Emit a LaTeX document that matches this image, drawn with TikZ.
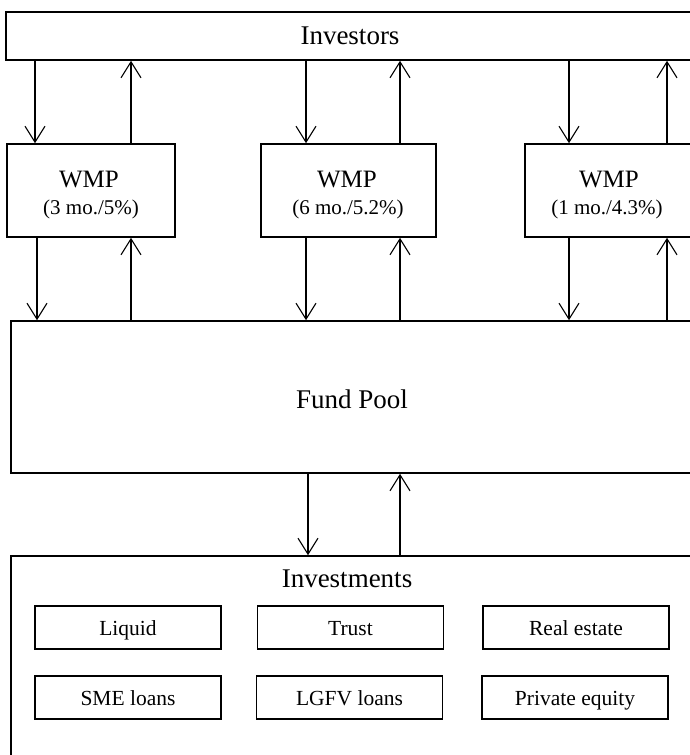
\documentclass[tikz,border=0pt]{standalone}
\usepackage{fontspec}
\setmainfont{Liberation Serif}
\usetikzlibrary{arrows.meta}
\tikzset{
  box/.style={draw, line width=1.6pt, inner sep=0pt},
  bigbox/.style={box, font=\fontsize{27}{32}\selectfont},
  smallbox/.style={box, minimum width=186pt, minimum height=43pt,
    font=\fontsize{21.5}{25}\selectfont, text height=15pt, text depth=0pt},
  lbl/.style={anchor=base, inner sep=0pt},
  wmpfont/.style={font=\fontsize{25}{30}\selectfont},
  subfont/.style={font=\fontsize{21}{25}\selectfont},
  arr/.style={line width=1.1pt, -{Straight Barb[length=16pt,width=20pt]}},
}
\begin{document}
\begin{tikzpicture}[x=1pt,y=-1pt]
\useasboundingbox (0,0) rectangle (690,755);
\clip (0,0) rectangle (690,755);

% main boxes
\node[bigbox, minimum width=688pt, minimum height=48pt, text height=16pt, text depth=0pt] (inv) at (350,36) {Investors};
\node[box, minimum width=168pt, minimum height=93pt] (w1) at (91,190.5) {};
\node[box, minimum width=175pt, minimum height=93pt] (w2) at (348.5,190.5) {};
\node[box, minimum width=170pt, minimum height=93pt] (w3) at (610,190.5) {};
\node[bigbox, minimum width=682pt, minimum height=152pt, text height=22pt, text depth=0pt] (fund) at (352,397) {Fund Pool};
\node[box, minimum width=682pt, minimum height=224pt] (invest) at (352,668) {};

% WMP labels
\node[lbl, wmpfont] (w1a) at (89,187) {WMP};
\node[lbl, subfont] (w1b) at (91,214) {(3 mo./5\%)};
\node[lbl, wmpfont] (w2a) at (347,187) {WMP};
\node[lbl, subfont] (w2b) at (348,214) {(6 mo./5.2\%)};
\node[lbl, wmpfont] (w3a) at (609,187) {WMP};
\node[lbl, subfont] (w3b) at (607,214) {(1 mo./4.3\%)};

% Investments
\node[lbl, font=\fontsize{27}{32}\selectfont] (investlbl) at (347,587) {Investments};
\node[smallbox] (liq) at (128,627.5) {Liquid};
\node[smallbox] (trust) at (350.5,627.5) {Trust};
\node[smallbox] (real) at (576,627.5) {Real estate};
\node[smallbox] (sme) at (128,697.5) {SME loans};
\node[smallbox] (lgfv) at (349.5,697.5) {LGFV loans};
\node[smallbox] (pe) at (575,697.5) {Private equity};

% column positions
\coordinate (d1) at (35,0);
\coordinate (e1) at (37,0);
\coordinate (u1) at (131,0);
\coordinate (d2) at (306,0);
\coordinate (u2) at (400,0);
\coordinate (d3) at (569,0);
\coordinate (u3) at (667,0);
\coordinate (d4) at (308,0);
\coordinate (u4) at (400,0);

% Investors <-> WMP
\draw[arr] (inv.south -| d1) -- (w1.north -| d1);
\draw[arr] (w1.north -| u1) -- (inv.south -| u1);
\draw[arr] (inv.south -| d2) -- (w2.north -| d2);
\draw[arr] (w2.north -| u2) -- (inv.south -| u2);
\draw[arr] (inv.south -| d3) -- (w3.north -| d3);
\draw[arr] (w3.north -| u3) -- (inv.south -| u3);

% WMP <-> Fund Pool
\draw[arr] (w1.south -| e1) -- (fund.north -| e1);
\draw[arr] (fund.north -| u1) -- (w1.south -| u1);
\draw[arr] (w2.south -| d2) -- (fund.north -| d2);
\draw[arr] (fund.north -| u2) -- (w2.south -| u2);
\draw[arr] (w3.south -| d3) -- (fund.north -| d3);
\draw[arr] (fund.north -| u3) -- (w3.south -| u3);

% Fund Pool <-> Investments
\draw[arr] (fund.south -| d4) -- (invest.north -| d4);
\draw[arr] (invest.north -| u4) -- (fund.south -| u4);
\end{tikzpicture}
\end{document}
